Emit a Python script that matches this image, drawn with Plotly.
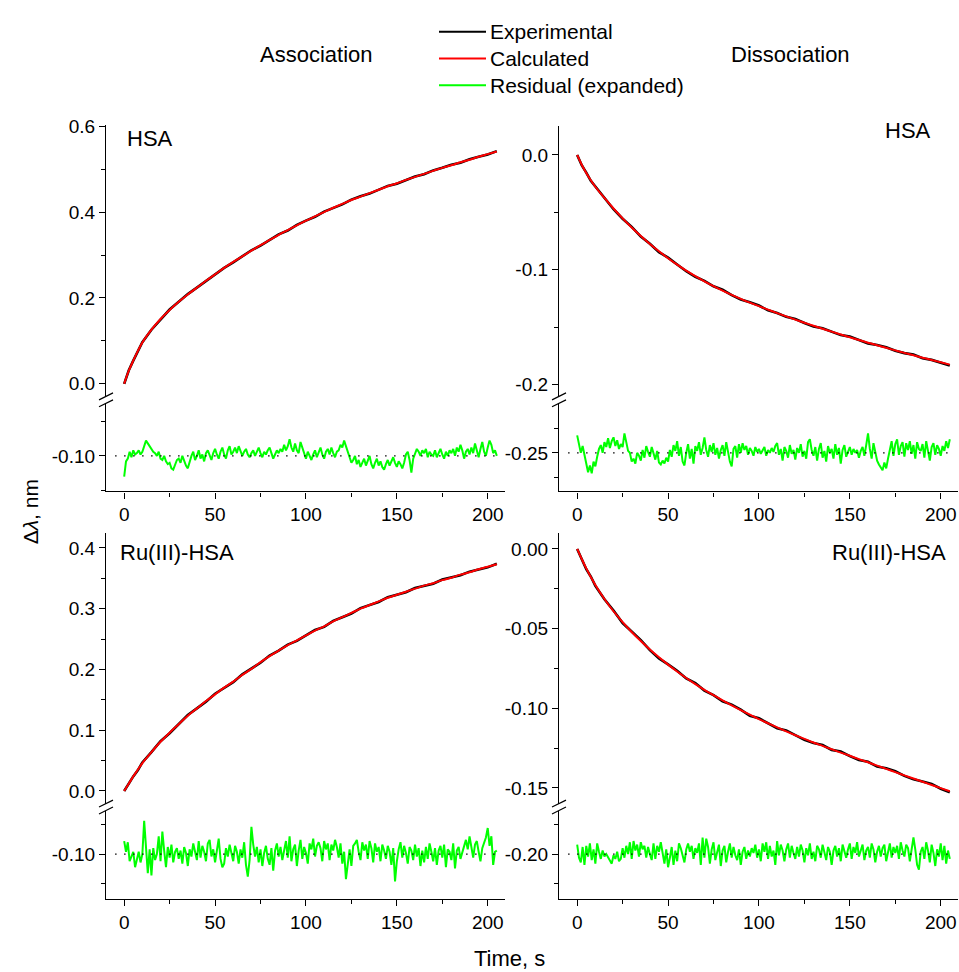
import plotly.graph_objects as go

# ---------------------------------------------------------------- data
# time grid of the fitted / measured curves (s)
t_fit = [0, 2.5, 5, 7.5, 10] + list(range(15, 206, 5))
# time grid of the residual traces (s)
t_res = list(range(0, 206))

# HSA, association (nm)
hsa_assoc_calc = [0.000, 0.030, 0.054, 0.076, 0.096,
                  0.126, 0.151, 0.172, 0.191, 0.208, 0.224, 0.240, 0.255, 0.270, 0.284,
                  0.297, 0.310, 0.323, 0.335, 0.347, 0.358, 0.369, 0.380, 0.390, 0.400,
                  0.410, 0.419, 0.428, 0.436, 0.444, 0.452, 0.460, 0.467, 0.475, 0.482,
                  0.489, 0.496, 0.503, 0.509, 0.516, 0.522, 0.529, 0.535, 0.541]
hsa_assoc_exp = [0.000, 0.031, 0.054, 0.075, 0.097,
                 0.126, 0.150, 0.173, 0.191, 0.209, 0.224, 0.239, 0.256, 0.270, 0.283,
                 0.298, 0.311, 0.322, 0.335, 0.348, 0.357, 0.370, 0.380, 0.389, 0.401,
                 0.410, 0.418, 0.429, 0.437, 0.443, 0.452, 0.461, 0.466, 0.475, 0.483,
                 0.488, 0.497, 0.503, 0.510, 0.515, 0.523, 0.529, 0.534, 0.542]
# residuals, expanded, in 10^-3 nm about the -0.10 baseline
hsa_assoc_res = [-15, -4, -2, 3, -1, 4, 1, 2, 4, 1,
                 3, 7, 11, 9, 7, 5, 3, 2, 0, 3,
                 -2, -3, 0, -4, -6, -5, -9, -10, -6, -3,
                 -2, -5, 0, -4, -7, -9, -4, 0, 3, -3,
                 0, 4, -2, 1, -4, 2, 4, 0, -3, 2,
                 5, 1, -2, 3, 6, 1, -2, 4, 7, 1,
                 3, 6, 2, 7, 4, 0, 3, 5, 1, -1,
                 2, 4, 0, 3, 6, 2, -1, 3, 1, 4,
                 6, 2, -2, 1, 4, 2, 5, 3, 8, 4,
                 7, 12, 6, 3, 9, 4, 2, 10, 6, 1,
                 -2, 3, 0, -3, 1, 4, -1, 2, 6, 1,
                 -2, 3, 5, 1, 6, 2, -1, 3, 4, 8,
                 6, 11, 7, 2, -2, -5, -3, 0, -6, -3,
                 -8, -5, -2, -7, -4, 0, -6, -9, -5, -2,
                 -7, -4, -8, -10, -6, -3, -7, -4, -1, -5,
                 -8, -4, -6, -9, -5, 1, 3, -3, -12, -2,
                 2, 5, 3, 0, 4, 2, 5, -1, 3, 1,
                 0, 4, -1, 2, 5, 1, -2, 3, 0, 4,
                 2, 5, 0, 6, 3, 8, 4, -2, 3, 5,
                 1, 6, 2, 9, 4, -1, 5, 10, 3, 0,
                 6, 11, 8, 2, 4, 0]

# HSA, dissociation (nm)
hsa_dis_calc = [0.0000, -0.0085, -0.0157, -0.0220, -0.0277,
                -0.0375, -0.0467, -0.0553, -0.0633, -0.0707, -0.0776, -0.0840, -0.0900,
                -0.0956, -0.1008, -0.1056, -0.1101, -0.1143, -0.1182, -0.1219, -0.1254,
                -0.1287, -0.1318, -0.1348, -0.1378, -0.1407, -0.1435, -0.1462, -0.1489,
                -0.1515, -0.1540, -0.1565, -0.1589, -0.1613, -0.1636, -0.1659, -0.1681,
                -0.1703, -0.1725, -0.1746, -0.1767, -0.1787, -0.1807, -0.1827]
hsa_dis_exp = [0.0000, -0.0090, -0.0154, -0.0226, -0.0275,
               -0.0371, -0.0473, -0.0556, -0.0627, -0.0711, -0.0774, -0.0847, -0.0895,
               -0.0955, -0.1013, -0.1062, -0.1097, -0.1145, -0.1175, -0.1222, -0.1259,
               -0.1284, -0.1312, -0.1354, -0.1377, -0.1411, -0.1430, -0.1464, -0.1496,
               -0.1511, -0.1538, -0.1570, -0.1583, -0.1616, -0.1642, -0.1656, -0.1676,
               -0.1707, -0.1727, -0.1740, -0.1772, -0.1786, -0.1813, -0.1834]
# residuals, expanded, in 10^-3 nm about the -0.25 baseline
hsa_dis_res = [18, 9, 0, 7, -2, -9, -20, -13, -21, -9,
               -14, -4, 4, 8, 0, 11, 6, 15, 5, 12,
               16, 7, 13, 4, 9, 6, 20, 11, 2, 0,
               -9, -6, -11, 0, -3, -8, 3, -5, 7, 1,
               -4, 6, -2, -7, 2, -10, -12, -8, -11, -5,
               -9, 3, -4, 8, 2, 12, -3, 6, -9, -13,
               0, 9, -6, 4, -11, 7, 2, 11, -2, 5,
               16, 3, -4, 8, 1, 10, -2, 5, -6, 3,
               8, -3, 11, -1, -9, -14, 4, 7, -5, 9,
               0, 10, 3, 7, -2, 5, 2, -3, 6, 1,
               4, -1, 2, 6, -3, 3, 0, 5, 1, 7,
               10, -2, 4, -8, 6, 2, -5, 8, -1, 3,
               -7, 5, 0, 9, -4, 2, -6, 11, 14, 3,
               -3, 6, -8, 4, 10, -5, 2, -9, 7, 0,
               4, -6, 9, -2, 5, -11, 3, 8, -4, 1,
               6, -2, 4, 0, 3, -5, 2, 6, -3, 8,
               20, 4, -6, 10, 2, -8, -12, -15, -18, -10,
               -16, -6, 2, 12, -3, 9, 14, -2, 7, 11,
               -4, 10, 3, 12, -1, 8, -6, 11, 4, 2,
               9, -5, 12, 3, -8, 6, 10, -2, 8, 4,
               -3, 7, 2, 12, 5, 14]

# Ru(III)-HSA, association (nm)
ru_assoc_calc = [0.000, 0.012, 0.024, 0.035, 0.046,
                 0.064, 0.081, 0.096, 0.110, 0.124, 0.136, 0.148, 0.159, 0.170, 0.180,
                 0.191, 0.201, 0.212, 0.222, 0.231, 0.240, 0.248, 0.256, 0.264, 0.271,
                 0.279, 0.286, 0.293, 0.300, 0.306, 0.312, 0.318, 0.323, 0.328, 0.333,
                 0.338, 0.342, 0.347, 0.351, 0.356, 0.360, 0.365, 0.369, 0.373]
ru_assoc_exp = [0.000, 0.013, 0.024, 0.034, 0.047,
                0.064, 0.082, 0.095, 0.110, 0.125, 0.136, 0.147, 0.160, 0.170, 0.179,
                0.192, 0.201, 0.211, 0.223, 0.231, 0.241, 0.247, 0.256, 0.265, 0.270,
                0.280, 0.286, 0.292, 0.301, 0.306, 0.311, 0.319, 0.323, 0.327, 0.334,
                0.338, 0.341, 0.348, 0.351, 0.355, 0.361, 0.365, 0.368, 0.374]
# residuals, expanded, in 10^-3 nm about the -0.10 baseline
ru_assoc_res = [11, 2, 10, -6, -2, 2, -11, -4, 2, -7,
                0, 28, 3, -16, 4, -18, 5, -5, 0, 15,
                -6, 19, 3, -11, 6, -3, 8, -7, 2, 5,
                -4, 3, -8, 6, 1, -10, 4, -2, 9, 2,
                -5, 11, -3, 7, 2, -6, 9, 12, -2, 4,
                -7, 3, 13, -4, -11, -8, 5, -2, 8, 1,
                -6, 7, 2, -8, 4, -3, 10, -9, -19, -5,
                23, 8, -2, 6, -7, 4, -10, 1, 7, -4,
                -9, 5, -14, 3, 9, -2, 6, -5, 2, 11,
                -3, 15, -6, 4, 8, -10, 3, 12, -4, 6,
                1, -8, 9, 4, 13, -2, 7, 10, 5, -6,
                11, 4, 9, -5, 8, 3, 12, 6, -3, 9,
                -8, 2, -21, -6, 4, -10, 7, 9, 12, 2,
                -5, 10, 3, 8, -4, 11, 5, -7, 9, 2,
                6, -6, 8, 3, -4, 7, 2, -9, 5, -23,
                -6, 4, 10, -3, 7, 1, -8, 6, 3, -5,
                8, -2, 5, -10, 3, -7, 6, -4, 9, 2,
                -6, 5, -9, 3, 7, -3, 8, -11, 4, 2,
                -5, 9, -12, 3, 6, -4, 2, 8, 12, 4,
                15, 6, -3, 8, 11, 2, -6, 5, 9, 14,
                22, 7, 15, -9, 2, 3]

# Ru(III)-HSA, dissociation (nm)
ru_dis_calc = [0.0000, -0.0063, -0.0122, -0.0176, -0.0226,
               -0.0314, -0.0391, -0.0459, -0.0521, -0.0578, -0.0631, -0.0680, -0.0726,
               -0.0769, -0.0810, -0.0848, -0.0884, -0.0918, -0.0950, -0.0981, -0.1011,
               -0.1040, -0.1068, -0.1094, -0.1120, -0.1145, -0.1169, -0.1192, -0.1215,
               -0.1236, -0.1257, -0.1278, -0.1298, -0.1319, -0.1339, -0.1360, -0.1380,
               -0.1401, -0.1421, -0.1441, -0.1461, -0.1481, -0.1501, -0.1521]
ru_dis_exp = [0.0000, -0.0059, -0.0127, -0.0173, -0.0232,
              -0.0316, -0.0386, -0.0465, -0.0518, -0.0572, -0.0635, -0.0687, -0.0724,
              -0.0764, -0.0813, -0.0842, -0.0889, -0.0917, -0.0956, -0.0977, -0.1008,
              -0.1047, -0.1063, -0.1096, -0.1125, -0.1139, -0.1167, -0.1198, -0.1218,
              -0.1231, -0.1261, -0.1271, -0.1300, -0.1324, -0.1336, -0.1366, -0.1376,
              -0.1395, -0.1424, -0.1446, -0.1459, -0.1475, -0.1505, -0.1527]
# residuals, expanded, in 10^-3 nm about the -0.20 baseline
ru_dis_res = [8, -3, -7, 6, -9, 7, -2, 9, -5, 4,
              -8, 9, 2, -4, 3, -2, 0, -3, -6, -8,
              -1, -4, 2, -6, -4, 5, -3, 7, 0, 10,
              -4, 11, 3, 8, -2, 10, 4, 7, -3, 6,
              0, -5, 9, -4, 7, 2, 10, -1, -8, 4,
              -11, -3, 6, -9, 3, -6, 9, 5, 0, -7,
              4, 9, 2, 7, -4, 5, 1, 9, -9, 14,
              -3, 13, 6, -8, 4, 10, -5, 2, 8, -10,
              3, 7, -7, 2, 9, -3, 6, -1, -5, 4,
              -9, 2, 6, -4, 3, -2, 5, 1, 8, -3,
              4, -6, 9, 2, 10, -4, 7, -2, 3, -9,
              11, -1, 8, 3, -6, 4, 9, -3, 7, 1,
              -4, 6, -2, 8, 3, -7, 5, -1, 9, -4,
              2, -6, 7, 4, -3, 8, 1, -5, 6, 2,
              -9, 3, 7, -2, 5, -6, 8, 2, -3, 4,
              9, -4, 6, 1, 10, -2, 4, 8, -5, 3,
              6, -3, 9, 4, -7, 2, 7, -2, 5, 8,
              -6, 3, 9, -3, 6, 1, 7, -4, 10, 3,
              -2, 8, 5, -6, 3, 14, 4, -9, -13, 2,
              6, -4, 10, 3, -7, 8, 1, -10, 4, -2,
              9, -5, 7, -8, 3, -4]

x_ticks = [0, 50, 100, 150, 200]
x_minor = [25, 75, 125, 175]

# ---------------------------------------------------------------- layout helpers
W, H = 959, 972
FONT = "Arial, Liberation Sans, sans-serif"
BLACK, RED, GREEN = "#000000", "#ff0000", "#00ff00"


def fx(p):
    return p / W


def fy(p):
    return 1 - p / H


# per panel: label, pixel spans of the axes, ranges and ticks of both segments
panels = [
    dict(label="HSA", label_xy=(150, 131),
         xpx=(106, 505), up_px=(117, 391), lo_px=(398, 487),
         up_range=(-0.0293, 0.603), lo_range=(-0.1257, -0.0621),
         up_ticks=[0.0, 0.2, 0.4, 0.6], up_text=["0.0", "0.2", "0.4", "0.6"],
         up_minor=[0.1, 0.3, 0.5],
         lo_ticks=[-0.10], lo_text=["-0.10"], lo_minor=[-0.075, -0.125],
         base=-0.10, t=t_fit, exp=hsa_assoc_exp, calc=hsa_assoc_calc, res=hsa_assoc_res),
    dict(label="HSA", label_xy=(908, 123),
         xpx=(559, 958), up_px=(118, 391), lo_px=(398, 487),
         up_range=(-0.2104, 0.0253), lo_range=(-0.2898, -0.1990),
         up_ticks=[0.0, -0.1, -0.2], up_text=["0.0", "-0.1", "-0.2"],
         up_minor=[-0.05, -0.15],
         lo_ticks=[-0.25], lo_text=["-0.25"], lo_minor=[-0.225, -0.275],
         base=-0.25, t=t_fit, exp=hsa_dis_exp, calc=hsa_dis_calc, res=hsa_dis_res),
    dict(label="Ru(III)-HSA", label_xy=(177, 549),
         xpx=(106, 505), up_px=(529, 802), lo_px=(809, 898),
         up_range=(-0.0207, 0.4244), lo_range=(-0.1375, -0.0633),
         up_ticks=[0.0, 0.1, 0.2, 0.3, 0.4], up_text=["0.0", "0.1", "0.2", "0.3", "0.4"],
         up_minor=[0.05, 0.15, 0.25, 0.35],
         lo_ticks=[-0.10], lo_text=["-0.10"], lo_minor=[-0.075, -0.125],
         base=-0.10, t=t_fit, exp=ru_assoc_exp, calc=ru_assoc_calc, res=ru_assoc_res),
    dict(label="Ru(III)-HSA", label_xy=(889, 549),
         xpx=(559, 958), up_px=(529, 802), lo_px=(809, 898),
         up_range=(-0.1598, 0.00995), lo_range=(-0.2375, -0.1633),
         up_ticks=[0.0, -0.05, -0.10, -0.15], up_text=["0.00", "-0.05", "-0.10", "-0.15"],
         up_minor=[-0.025, -0.075, -0.125],
         lo_ticks=[-0.20], lo_text=["-0.20"], lo_minor=[-0.175, -0.225],
         base=-0.20, t=t_fit, exp=ru_dis_exp, calc=ru_dis_calc, res=ru_dis_res),
]

AX_W = 1.2
tickfont = dict(family=FONT, size=19, color=BLACK)

fig = go.Figure()
layout = dict(
    width=W, height=H, margin=dict(l=0, r=0, t=0, b=0),
    paper_bgcolor="white", plot_bgcolor="white", showlegend=False,
    shapes=[], annotations=[],
)

for i, p in enumerate(panels):
    xi = i + 1
    yu = 2 * i + 1
    yl = 2 * i + 2
    xname = "xaxis" if xi == 1 else f"xaxis{xi}"
    yuname = "yaxis" if yu == 1 else f"yaxis{yu}"
    ylname = f"yaxis{yl}"
    xref = "x" if xi == 1 else f"x{xi}"
    yuref = "y" if yu == 1 else f"y{yu}"
    ylref = f"y{yl}"

    layout[xname] = dict(
        domain=[fx(p["xpx"][0]), fx(p["xpx"][1])], anchor=ylref,
        range=[-10, 209.5], showgrid=False, zeroline=False,
        showline=True, linecolor=BLACK, linewidth=AX_W,
        ticks="outside", ticklen=6, tickwidth=AX_W, tickcolor=BLACK,
        tickmode="array", tickvals=x_ticks, ticktext=[str(v) for v in x_ticks],
        tickfont=tickfont,
        minor=dict(tickmode="array", tickvals=x_minor, ticks="outside",
                   ticklen=4, tickwidth=AX_W, tickcolor=BLACK, showgrid=False),
    )
    common_y = dict(
        anchor=xref, showgrid=False, zeroline=False,
        showline=True, linecolor=BLACK, linewidth=AX_W,
        ticks="outside", ticklen=6, tickwidth=AX_W, tickcolor=BLACK,
        tickmode="array", tickfont=tickfont,
    )
    layout[yuname] = dict(
        common_y, domain=[fy(p["up_px"][1]), fy(p["up_px"][0])],
        range=list(p["up_range"]), tickvals=p["up_ticks"], ticktext=p["up_text"],
        minor=dict(tickmode="array", tickvals=p["up_minor"], ticks="outside",
                   ticklen=4, tickwidth=AX_W, tickcolor=BLACK, showgrid=False),
    )
    layout[ylname] = dict(
        common_y, domain=[fy(p["lo_px"][1]), fy(p["lo_px"][0])],
        range=list(p["lo_range"]), tickvals=p["lo_ticks"], ticktext=p["lo_text"],
        minor=dict(tickmode="array", tickvals=p["lo_minor"], ticks="outside",
                   ticklen=4, tickwidth=AX_W, tickcolor=BLACK, showgrid=False),
    )

    # measured curve and fit
    fig.add_trace(go.Scatter(x=p["t"], y=p["exp"], xaxis=xref, yaxis=yuref,
                             mode="lines", line=dict(color=BLACK, width=2.6),
                             name="Experimental"))
    fig.add_trace(go.Scatter(x=p["t"], y=p["calc"], xaxis=xref, yaxis=yuref,
                             mode="lines", line=dict(color=RED, width=2, shape="spline"),
                             name="Calculated"))
    # expanded residual about its baseline
    res_y = [p["base"] + r / 1000.0 for r in p["res"]]
    fig.add_trace(go.Scatter(x=t_res, y=res_y, xaxis=xref, yaxis=ylref,
                             mode="lines", line=dict(color=GREEN, width=2),
                             name="Residual (expanded)"))
    fig.add_trace(go.Scatter(x=[-5, 205], y=[p["base"], p["base"]], xaxis=xref, yaxis=ylref,
                             mode="lines", line=dict(color=BLACK, width=1.3, dash="1.5px,7.5px"),
                             hoverinfo="skip"))

    # axis break marks
    ax_x = p["xpx"][0]
    for gy in (p["up_px"][1], p["lo_px"][0]):
        layout["shapes"].append(dict(
            type="line", xref="paper", yref="paper",
            x0=fx(ax_x - 7), y0=fy(gy + 3.5), x1=fx(ax_x + 7), y1=fy(gy - 3.5),
            line=dict(color=BLACK, width=AX_W)))

    # panel label
    lx, ly = p["label_xy"]
    layout["annotations"].append(dict(
        text=p["label"], xref="paper", yref="paper", x=fx(lx), y=fy(ly),
        xanchor="center", yanchor="middle", showarrow=False,
        font=dict(family=FONT, size=22, color=BLACK)))

# column headers
for txt, cx in (("Association", 316), ("Dissociation", 790)):
    layout["annotations"].append(dict(
        text=txt, xref="paper", yref="paper", x=fx(cx), y=fy(46),
        xanchor="center", yanchor="middle", showarrow=False,
        font=dict(family=FONT, size=22, color=BLACK)))

# legend
legend_items = [("Experimental", BLACK, 23), ("Calculated", RED, 50),
                ("Residual (expanded)", GREEN, 77)]
for txt, col, ly in legend_items:
    layout["shapes"].append(dict(
        type="line", xref="paper", yref="paper",
        x0=fx(439), y0=fy(ly), x1=fx(486), y1=fy(ly),
        line=dict(color=col, width=2)))
    layout["annotations"].append(dict(
        text=txt, xref="paper", yref="paper", x=fx(488), y=fy(ly),
        xanchor="left", yanchor="middle", showarrow=False,
        font=dict(family=FONT, size=21, color=BLACK)))

# axis titles
layout["annotations"].append(dict(
    text="Δ<i>λ</i>, nm", xref="paper", yref="paper", x=fx(30), y=fy(508),
    xanchor="center", yanchor="middle", textangle=-90, showarrow=False,
    font=dict(family=FONT, size=21, color=BLACK)))
layout["annotations"].append(dict(
    text="Time, s", xref="paper", yref="paper", x=fx(509), y=fy(958),
    xanchor="center", yanchor="middle", showarrow=False,
    font=dict(family=FONT, size=22, color=BLACK)))

fig.update_layout(**layout)
fig.write_html("out.html")
